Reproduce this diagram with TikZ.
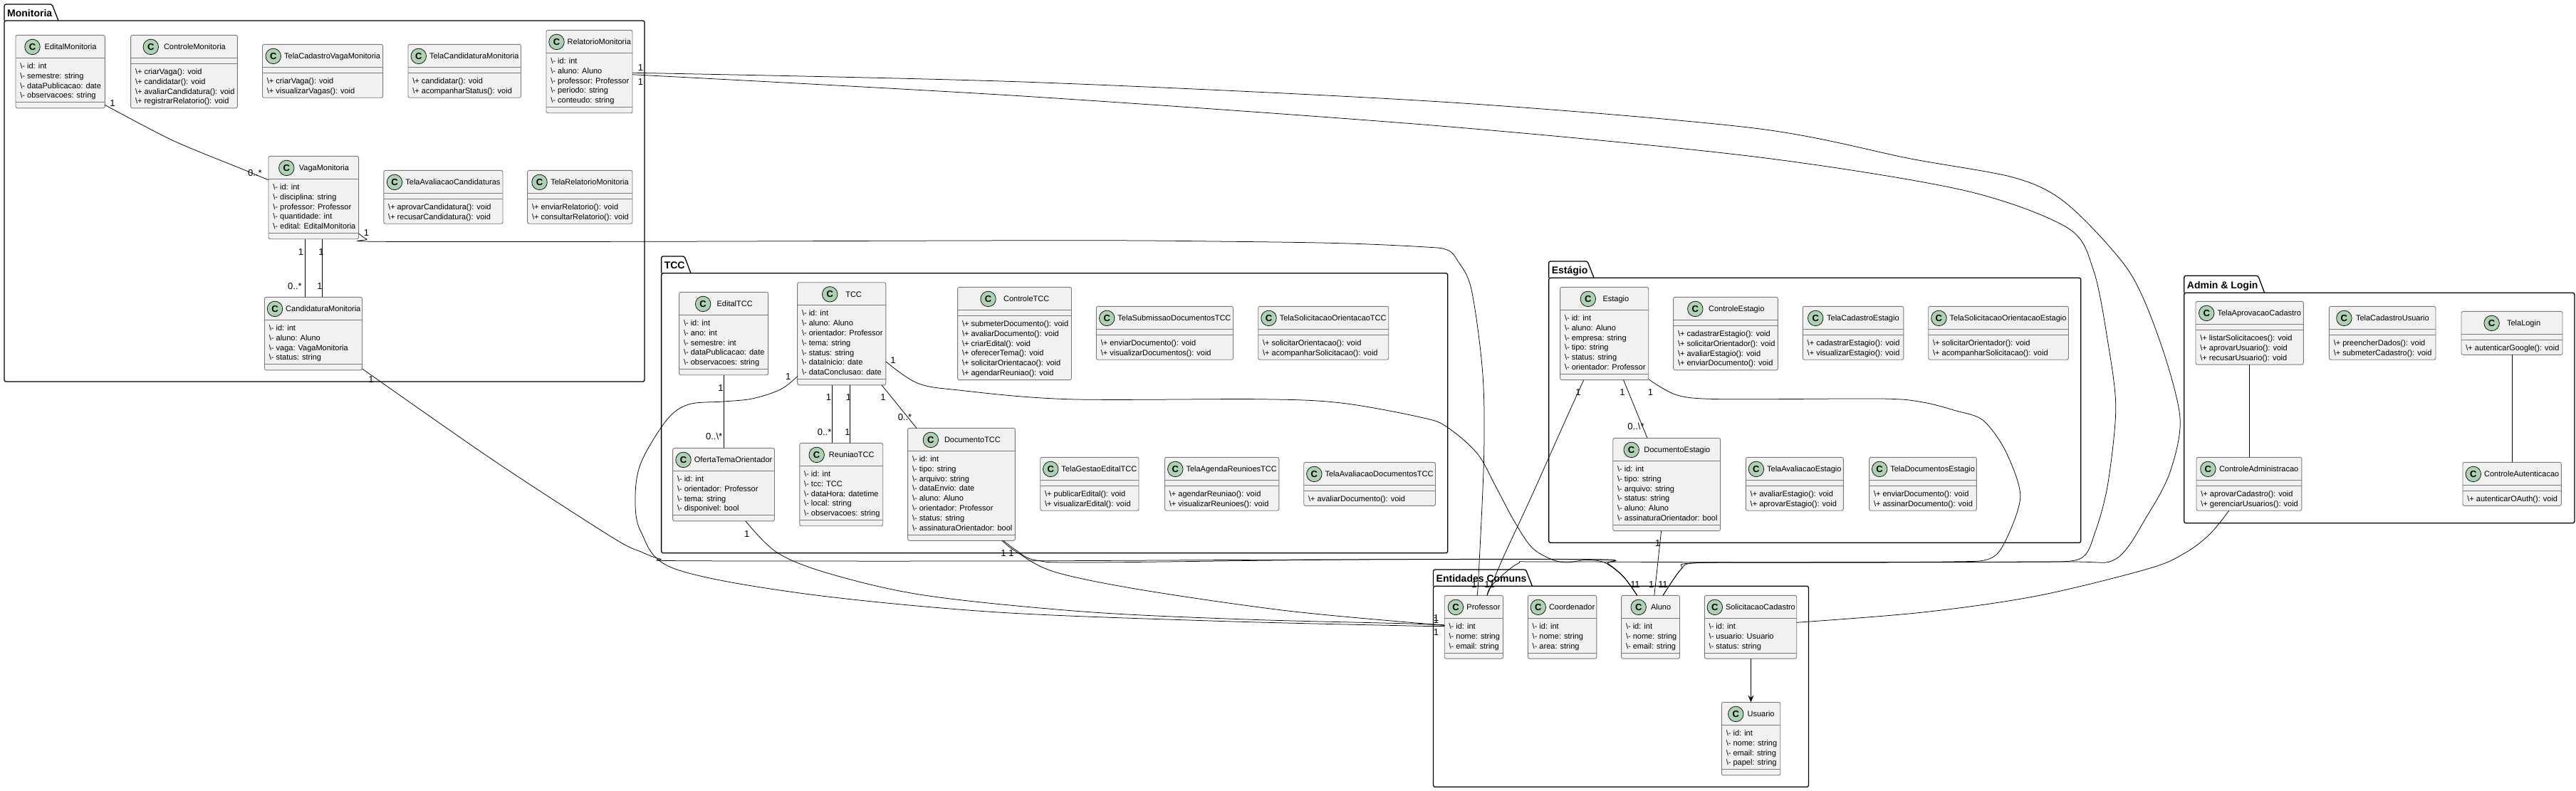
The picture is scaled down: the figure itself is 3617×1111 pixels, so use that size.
\documentclass[tikz,border=0pt]{standalone}
\usepackage{fontspec}
\setmainfont{Liberation Sans}
\usetikzlibrary{arrows.meta}
\definecolor{clsfill}{HTML}{F1F1F1}
\definecolor{clsedge}{HTML}{7A7A7A}
\definecolor{badge}{HTML}{ADD1B2}
\definecolor{ink}{HTML}{181818}
\newlength{\clsw}
\newcounter{mlabc}
\tikzset{
  clsbox/.style={draw=clsedge,fill=clsfill,line width=0.9pt,rounded corners=2.5pt,inner sep=0pt,outer sep=0pt,anchor=north west},
  clsrule/.style={draw=clsedge,line width=0.9pt},
  badgenode/.style={circle,draw=ink,fill=badge,line width=0.8pt,minimum size=21.5pt,inner sep=0pt,font=\fontsize{13}{13}\selectfont\bfseries},
  clsname/.style={anchor=base west,inner sep=0pt,font=\fontsize{11}{13}\selectfont},
  clsrow/.style={anchor=base west,inner sep=0pt,font=\fontsize{11}{13}\selectfont},
  pkgline/.style={draw=black,line width=1.3pt,line join=round},
  pkgtitle/.style={anchor=base west,inner sep=0pt,font=\fontsize{14}{16}\selectfont\bfseries},
  link/.style={draw=black,line width=0.75pt},
  mult/.style={inner sep=0pt,font=\fontsize{13}{13}\selectfont},
}
\newcommand{\pkgbox}[8]{% id title L T hy R B tabend
  \path[pkgline,rounded corners=2.5pt] (#3,#5) rectangle (#6,#7);
  \draw[pkgline] (#3,#5) [rounded corners=2.5pt] -- (#3,#4) -- (#8-9,#4) [sharp corners] -- (#8,#5);
  \node[pkgtitle] (#1) at (#3+4,#5-6) {#2};
}
\newcommand{\cls}[9]{% id name x0 x1 y0 nattr attrs nmeth meths
  \pgfmathsetmacro{\secA}{#6==0 ? 8 : #6*13.85+7.2}
  \pgfmathsetmacro{\secB}{#8==0 ? 8 : #8*13.85+7.2}
  \pgfmathsetmacro{\hgt}{32+\secA+\secB}
  \pgfmathsetmacro{\wid}{#4-#3}
  \pgfmathsetmacro{\yh}{#5+32}
  \pgfmathsetmacro{\ys}{\yh+\secA}
  \node[clsbox,minimum width=\wid pt,minimum height=\hgt pt] (#1) at (#3,#5) {};
  \draw[clsrule] (#3,\yh) -- (#4,\yh);
  \draw[clsrule] (#3,\ys) -- (#4,\ys);
  \pgfinterruptpicture\settowidth{\clsw}{\fontsize{11}{13}\selectfont #2}\global\clsw=\clsw\endpgfinterruptpicture
  \pgfmathsetmacro{\supp}{max(0,\wid-32.5-\clsw/1pt)}
  \pgfmathsetmacro{\cxx}{#3+3.5+0.45*\supp+11}
  \pgfmathsetmacro{\nx}{#3+3.5+0.45*\supp+22+4+0.1*\supp}
  \node[badgenode] (#1-badge) at (\cxx,#5+16.6) {C};
  \node[clsname] (#1-name) at (\nx,#5+20.4) {#2};
  \ifnum#6>0
    \foreach \it [count=\i] in {#7} {
      \node[clsrow] (#1-a\i) at (#3+6.2,\yh+15+13.85*\i-13.85) {\textbackslash- \it};
    }
  \fi
  \ifnum#8>0
    \foreach \it [count=\i] in {#9} {
      \node[clsrow] (#1-m\i) at (#3+6.2,\ys+15+13.85*\i-13.85) {\textbackslash+ \it};
    }
  \fi
}
\newcommand{\mlab}[3]{\stepcounter{mlabc}\node[mult] (mult\themlabc) at (#1,#2) {#3};}
\begin{document}
\begin{tikzpicture}[x=1pt,y=-1pt]
\useasboundingbox (0,0) rectangle (3617,1111);
% packages
\pkgbox{pkgMon}{Monitoria}{6}{6}{29}{905}{536}{82}
\pkgbox{pkgTCC}{TCC}{928.6}{360}{383.7}{2032.7}{776.7}{970}
\pkgbox{pkgEst}{Estágio}{2174.6}{367}{390.3}{2921.7}{762.3}{2238}
\pkgbox{pkgAdm}{Admin \& Login}{3066.7}{387.3}{411.3}{3615}{734.7}{3179.6}
\pkgbox{pkgEnt}{Entidades Comuns}{2012.5}{800}{823.3}{2539.5}{1105.3}{2151.4}
% Monitoria
\cls{EditalMonitoria}{EditalMonitoria}{22}{147.3}{49.3}{4}{id: int,semestre: string,dataPublicacao: date,observacoes: string}{0}{}
\cls{ControleMonitoria}{ControleMonitoria}{183.6}{333.3}{49.3}{0}{}{4}{criarVaga(): void,candidatar(): void,avaliarCandidatura(): void,registrarRelatorio(): void}
\cls{TelaCadastroVagaMonitoria}{TelaCadastroVagaMonitoria}{368.5}{537.6}{62.3}{0}{}{2}{criarVaga(): void,visualizarVagas(): void}
\cls{TelaCandidaturaMonitoria}{TelaCandidaturaMonitoria}{573}{731.5}{62.3}{0}{}{2}{candidatar(): void,acompanharStatus(): void}
\cls{RelatorioMonitoria}{RelatorioMonitoria}{767}{888}{42.3}{5}{id: int,aluno: Aluno,professor: Professor,periodo: string,conteudo: string}{0}{}
\cls{VagaMonitoria}{VagaMonitoria}{377}{503.6}{219.3}{5}{id: int,disciplina: string,professor: Professor,quantidade: int,edital: EditalMonitoria}{0}{}
\cls{TelaAvaliacaoCandidaturas}{TelaAvaliacaoCandidaturas}{538.8}{706}{239.3}{0}{}{2}{aprovarCandidatura(): void,recusarCandidatura(): void}
\cls{TelaRelatorioMonitoria}{TelaRelatorioMonitoria}{740.6}{888}{239.3}{0}{}{2}{enviarRelatorio(): void,consultarRelatorio(): void}
\cls{CandidaturaMonitoria}{CandidaturaMonitoria}{371.5}{508.5}{417.3}{4}{id: int,aluno: Aluno,vaga: VagaMonitoria,status: string}{0}{}
% TCC
\cls{EditalTCC}{EditalTCC}{953.6}{1078.6}{410.3}{5}{id: int,ano: int,semestre: int,dataPublicacao: date,observacoes: string}{0}{}
\cls{TCC}{TCC}{1119.6}{1243.8}{396.7}{7}{id: int,aluno: Aluno,orientador: Professor,tema: string,status: string,dataInicio: date,dataConclusao: date}{0}{}
\cls{ControleTCC}{ControleTCC}{1344.6}{1504.5}{403.3}{0}{}{6}{submeterDocumento(): void,avaliarDocumento(): void,criarEdital(): void,oferecerTema(): void,solicitarOrientacao(): void,agendarReuniao(): void}
\cls{TelaSubmissaoDocumentosTCC}{TelaSubmissaoDocumentosTCC}{1539.4}{1731.5}{430.3}{0}{}{2}{enviarDocumento(): void,visualizarDocumentos(): void}
\cls{TelaSolicitacaoOrientacaoTCC}{TelaSolicitacaoOrientacaoTCC}{1766.7}{1949.7}{430.3}{0}{}{2}{solicitarOrientacao(): void,acompanharSolicitacao(): void}
\cls{OfertaTemaOrientador}{OfertaTemaOrientador}{944.6}{1087.5}{629.3}{4}{id: int,orientador: Professor,tema: string,disponivel: bool}{0}{}
\cls{ReuniaoTCC}{ReuniaoTCC}{1122.8}{1239.7}{622.3}{5}{id: int,tcc: TCC,dataHora: datetime,local: string,observacoes: string}{0}{}
\cls{DocumentoTCC}{DocumentoTCC}{1274.6}{1425.4}{601.3}{8}{id: int,tipo: string,arquivo: string,dataEnvio: date,aluno: Aluno,orientador: Professor,status: string,assinaturaOrientador: bool}{0}{}
\cls{TelaGestaoEditalTCC}{TelaGestaoEditalTCC}{1460.7}{1599}{642.3}{0}{}{2}{publicarEdital(): void,visualizarEdital(): void}
\cls{TelaAgendaReunioesTCC}{TelaAgendaReunioesTCC}{1635.5}{1795.8}{642.3}{0}{}{2}{agendarReuniao(): void,visualizarReunioes(): void}
\cls{TelaAvaliacaoDocumentosTCC}{TelaAvaliacaoDocumentosTCC}{1830.7}{2015.5}{649.3}{0}{}{1}{avaliarDocumento(): void}
% Estagio
\cls{Estagio}{Estagio}{2190.6}{2314.7}{403.3}{6}{id: int,aluno: Aluno,empresa: string,tipo: string,status: string,orientador: Professor}{0}{}
\cls{ControleEstagio}{ControleEstagio}{2349.6}{2496.4}{417.3}{0}{}{4}{cadastrarEstagio(): void,solicitarOrientador(): void,avaliarEstagio(): void,enviarDocumento(): void}
\cls{TelaCadastroEstagio}{TelaCadastroEstagio}{2531.3}{2672.8}{430.3}{0}{}{2}{cadastrarEstagio(): void,visualizarEstagio(): void}
\cls{TelaSolicitacaoOrientacaoEstagio}{TelaSolicitacaoOrientacaoEstagio}{2707.7}{2904.5}{430.3}{0}{}{2}{solicitarOrientador(): void,acompanharSolicitacao(): void}
\cls{DocumentoEstagio}{DocumentoEstagio}{2264.7}{2415.6}{615.3}{6}{id: int,tipo: string,arquivo: string,status: string,aluno: Aluno,assinaturaOrientador: bool}{0}{}
\cls{TelaAvaliacaoEstagio}{TelaAvaliacaoEstagio}{2451.3}{2588.4}{642.3}{0}{}{2}{avaliarEstagio(): void,aprovarEstagio(): void}
\cls{TelaDocumentosEstagio}{TelaDocumentosEstagio}{2624.6}{2775.4}{642.3}{0}{}{2}{enviarDocumento(): void,assinarDocumento(): void}
% Admin
\cls{TelaAprovacaoCadastro}{TelaAprovacaoCadastro}{3083}{3234.4}{423.3}{0}{}{3}{listarSolicitacoes(): void,aprovarUsuario(): void,recusarUsuario(): void}
\cls{TelaCadastroUsuario}{TelaCadastroUsuario}{3270.4}{3420}{430.3}{0}{}{2}{preencherDados(): void,submeterCadastro(): void}
\cls{TelaLogin}{TelaLogin}{3456}{3598}{437.3}{0}{}{1}{autenticarGoogle(): void}
\cls{ControleAdministracao}{ControleAdministracao}{3084}{3231.9}{642.3}{0}{}{2}{aprovarCadastro(): void,gerenciarUsuarios(): void}
\cls{ControleAutenticacao}{ControleAutenticacao}{3458}{3596.3}{649.3}{0}{}{1}{autenticarOAuth(): void}
% Entidades
\cls{Professor}{Professor}{2028.2}{2110.5}{836.3}{3}{id: int,nome: string,email: string}{0}{}
\cls{Coordenador}{Coordenador}{2145.3}{2241.8}{836.3}{3}{id: int,nome: string,area: string}{0}{}
\cls{Aluno}{Aluno}{2276.6}{2358.5}{836.3}{3}{id: int,nome: string,email: string}{0}{}
\cls{SolicitacaoCadastro}{SolicitacaoCadastro}{2393.3}{2522.7}{836.3}{3}{id: int,usuario: Usuario,status: string}{0}{}
\cls{Usuario}{Usuario}{2417.4}{2499.7}{986.3}{4}{id: int,nome: string,email: string,papel: string}{0}{}
% connectors
\draw[link] plot[smooth,tension=.5] coordinates {([yshift=4.5pt]EditalMonitoria.south east) (242,197) (339,237) ([yshift=-33.5pt]VagaMonitoria.north west)};
\draw[link] ([xshift=51.5pt]VagaMonitoria.south west) -- ([xshift=57pt]CandidaturaMonitoria.north west);
\draw[link] ([xshift=75.7pt]VagaMonitoria.south west) -- ([xshift=81.2pt]CandidaturaMonitoria.north west);
\draw[link] plot[smooth,tension=.55] coordinates {([yshift=8pt]VagaMonitoria.south east) (515,336) (532,339.3) (900,339.3) (1500,337.7) (1730,339.3) (1883,341.7) (1997.5,346.7) (2032,351) (2047,366.7) (2066,406.7) (2081.7,523) (2083.6,640) (2076,810) ([xshift=45.6pt]Professor.north west)};
\draw[link] plot[smooth,tension=.5] coordinates {([yshift=2pt]CandidaturaMonitoria.south east) (692,646) (860,755) (900,775) (927,785) (960,787.7) (1400,788) (1850,786) (2240,786) (2257.5,791.7) (2279.5,810) ([xshift=22.2pt]Aluno.north west)};
\draw[link] plot[smooth,tension=.5] coordinates {([yshift=54pt]RelatorioMonitoria.south east) (1436,135) (2023,177) (2463,220) (2756,267) (2903,320) (2939.6,380) (2959.6,480) (2970.8,573) (2959.6,680) (2942,746.7) (2920,785) (2840,789) (2600,790) (2380.6,790.7) (2360,800) ([xshift=58.4pt]Aluno.north west)};
\draw[link] plot[smooth,tension=.5] coordinates {([yshift=56.5pt]RelatorioMonitoria.south east) (1436,115) (2023,143) (2463,180) (2683,223) (2830,250) (2903,287) (2988.7,380) (3033,480) (3061,586.7) (3047,663) (3015.7,723) (2970.8,785) (2893,789) (2500,790) (2167.5,789) (2131,791.7) (2095,821.7) ([xshift=59.8pt]Professor.north west)};
\draw[link] plot[smooth,tension=.55] coordinates {([yshift=12.3pt]TCC.south west) (1096,547) (1056,560) (1016,564) (967,568) (936,590) (900,650) (892,700) (900,747) (945,798) (1123,833) (1391,859.3) (1700,872) (1980,879) ([yshift=-43pt]Professor.north west)};
\draw[link] plot[smooth,tension=.55] coordinates {([yshift=33pt]TCC.south east) (1288,538) (1346,548) (1500,560.7) (1768,560.7) (1883,566) (1997.5,586.7) (2032,600) (2074,636.7) (2100,683) (2125,730) (2150,768) (2177,785) (2199,790) (2226,786.7) (2252.7,790) (2279.5,810) ([xshift=22.2pt]Aluno.north west)};
\draw[link] ([xshift=48.7pt]TCC.south west) -- ([xshift=45.5pt]ReuniaoTCC.north west);
\draw[link] ([xshift=74.2pt]TCC.south west) -- ([xshift=71pt]ReuniaoTCC.north west);
\draw[link] ([xshift=118.4pt]TCC.south west) -- ([xshift=12.4pt]DocumentoTCC.north west);
\draw[link] ([xshift=62.9pt]EditalTCC.south west) -- ([xshift=71.9pt]OfertaTemaOrientador.north west);
\draw[link] plot[smooth,tension=.55] coordinates {([xshift=102.4pt]OfertaTemaOrientador.south west) (1092,776.7) (1168,806.7) (1302,836.7) (1525,859.3) (1750,870) (1980,876) ([yshift=-42.2pt]Professor.north west)};
\draw[link] plot[smooth,tension=.55] coordinates {([xshift=134.4pt]DocumentoTCC.south west) (1427,773) (1453.6,786.7) (1525,790) (1900,786) (2240,785.7) (2257.5,791.7) (2279.5,810) ([xshift=22.2pt]Aluno.north west)};
\draw[link] plot[smooth,tension=.55] coordinates {([xshift=132.4pt]DocumentoTCC.south west) (1427,775) (1480,803) (1600,828) (1800,857) (1980,874.3) ([yshift=-41.4pt]Professor.north west)};
\draw[link] plot[smooth,tension=.5] coordinates {([xshift=33.1pt]Estagio.south west) (2194.6,598) (2150,698) (2112,780) ([xshift=59.8pt]Professor.north west)};
\draw[link] ([xshift=88.9pt]Estagio.south west) -- ([xshift=48.3pt]DocumentoEstagio.north west);
\draw[link] plot[smooth,tension=.5] coordinates {([yshift=1pt]Estagio.south east) (2355,555) (2418,560.7) (2641,560) (2700,565) (2745.6,576.7) (2784,590) (2815.7,633) (2836.8,696.7) (2815.7,760) (2793,785) (2735,789) (2500,790) (2380.6,790.7) (2360,800) ([xshift=58.4pt]Aluno.north west)};
\draw[link] ([xshift=67.9pt]DocumentoEstagio.south west) -- ([xshift=46.2pt]Aluno.north west);
\draw[link] ([xshift=75.5pt]TelaAprovacaoCadastro.south west) -- ([xshift=74.5pt]ControleAdministracao.north west);
\draw[link] ([xshift=71.4pt]TelaLogin.south west) -- ([xshift=69.4pt]ControleAutenticacao.north west);
\draw[link] plot[smooth,tension=.55] coordinates {([xshift=45.7pt]ControleAdministracao.south west) (3103,750) (3068,776.7) (3015.7,799) (2860,837) (2700,860) ([yshift=-38pt]SolicitacaoCadastro.north east)};
\draw[link,-{Stealth[length=10pt,width=8pt,inset=4pt]}] ([xshift=65.1pt]SolicitacaoCadastro.south west) -- ([xshift=41pt]Usuario.north west);
% multiplicities
\mlab{158}{145}{1}
\mlab{358}{243}{0..*}
\mlab{422.4}{353.7}{1}
\mlab{451}{353.7}{1}
\mlab{414}{401.7}{0..*}
\mlab{449}{401.7}{1}
\mlab{514.5}{326.7}{1}
\mlab{521}{533}{1}
\mlab{899.4}{94.7}{1}
\mlab{899.4}{114.7}{1}
\mlab{1012}{545}{1}
\mlab{1002.7}{613.3}{0..\textbackslash*}
\mlab{1106.7}{528.7}{1}
\mlab{1254}{506}{1}
\mlab{1163.4}{557.7}{1}
\mlab{1191.5}{557.7}{1}
\mlab{1157.6}{606.7}{0..*}
\mlab{1190}{606.7}{1}
\mlab{1240}{557.7}{1}
\mlab{1270.5}{585.7}{0..*}
\mlab{1048.7}{750}{1}
\mlab{1409}{776.7}{1}
\mlab{1420}{776.7}{1}
\mlab{2216}{551}{1}
\mlab{2278}{550.7}{1}
\mlab{2317.4}{550.7}{1}
\mlab{2297}{599.3}{0..\textbackslash*}
\mlab{2327.7}{762.7}{1}
\mlab{2016.4}{868}{1}
\mlab{2016.4}{871}{1}
\mlab{2016.4}{888}{1}
\mlab{2070}{820.7}{1}
\mlab{2088}{820.7}{1}
\mlab{2095}{820.7}{1}
\mlab{2293}{820.7}{1}
\mlab{2299}{820.7}{1}
\mlab{2318.7}{820.7}{1}
\mlab{2332}{820.7}{1}
\mlab{2338}{820.7}{1}
\end{tikzpicture}
\end{document}
